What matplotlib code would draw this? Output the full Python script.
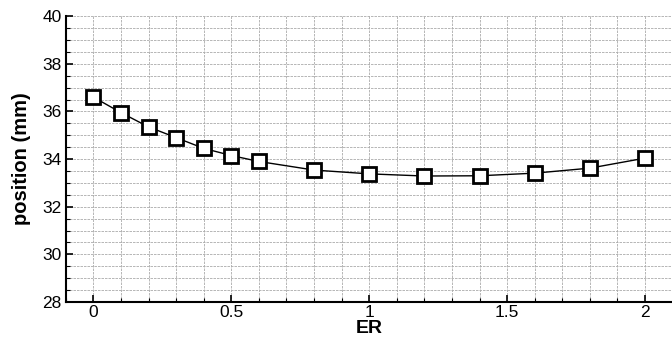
import numpy as np
import matplotlib
matplotlib.use('Agg')
import matplotlib.pyplot as plt
from matplotlib.ticker import MultipleLocator

plt.rcParams['font.family'] = ['Liberation Sans', 'DejaVu Sans']

# data
er = [0, 0.1, 0.2, 0.3, 0.4, 0.5, 0.6, 0.8, 1.0, 1.2, 1.4, 1.6, 1.8, 2.0]
position = [36.6, 35.95, 35.35, 34.9, 34.45, 34.15, 33.9, 33.54, 33.38,
            33.29, 33.3, 33.41, 33.62, 34.04]

fig = plt.figure(figsize=(6.72, 3.44), dpi=100)
ax = fig.add_axes([0.098, 0.122, 0.902, 0.831])

ax.plot(er, position, color='black', lw=1.0, marker='s', ms=9.5,
        mfc='white', mec='black', mew=2.0)

ax.set_xlim(-0.1, 2.098)
ax.set_ylim(28, 40)
ax.xaxis.set_major_locator(MultipleLocator(0.5))
ax.xaxis.set_minor_locator(MultipleLocator(0.1))
ax.yaxis.set_major_locator(MultipleLocator(2))
ax.yaxis.set_minor_locator(MultipleLocator(0.5))
ax.set_xticks([0, 0.5, 1, 1.5, 2])
ax.set_xticklabels(['0', '0.5', '1', '1.5', '2'])

ax.grid(which='both', color='#ababab', linestyle=(0, (3, 1.2)), lw=0.6)
ax.set_axisbelow(True)

ax.tick_params(which='major', direction='in', length=5, width=1.2,
               labelsize=12.5, pad=3)
ax.tick_params(which='minor', direction='in', length=3, width=0.8)
ax.tick_params(axis='x', which='major', pad=2)

for s in ['top', 'right']:
    ax.spines[s].set_visible(False)
for s in ['left', 'bottom']:
    ax.spines[s].set_linewidth(1.5)

ax.set_xlabel('ER', fontsize=14, fontweight='bold', labelpad=0)
ax.set_ylabel('position (mm)', fontsize=14.5, fontweight='bold', labelpad=8)

fig.savefig('out.png', dpi=100)
